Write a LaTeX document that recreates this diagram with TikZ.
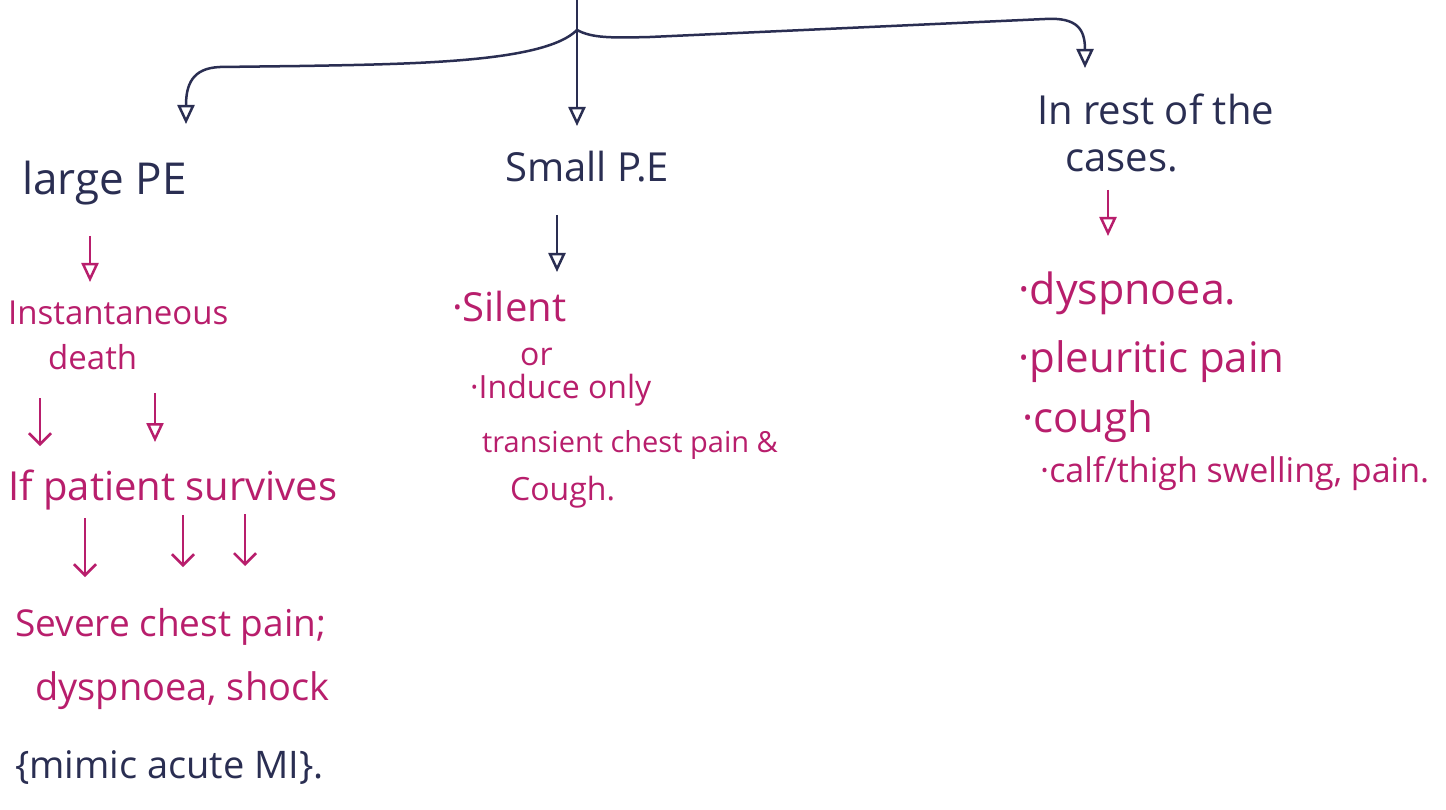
\documentclass[tikz,border=0pt]{standalone}
\usepackage{fontspec}
\setmainfont{Open Sans}
\usetikzlibrary{arrows.meta}
\definecolor{ink}{RGB}{42,46,82}
\definecolor{pinkink}{RGB}{184,30,108}
\tikzset{
  lbl/.style={anchor=base west, inner sep=0pt, font=\fontsize{36}{40}\selectfont},
  fs/.style={font=\fontsize{#1}{#1}\selectfont},
  navytxt/.style={lbl, text=ink},
  pinktxt/.style={lbl, text=pinkink},
  tri/.style={-{Triangle[open,length=19pt,width=17pt,line width=2.5pt]}, line width=2.5pt},
  barb/.style={-{Straight Barb[length=11pt,width=22pt,line width=2.5pt]}, line width=2.5pt},
}
\begin{document}
\begin{tikzpicture}[x=1pt,y=-1pt]
\useasboundingbox[fill=white] (0,0) rectangle (1446,810);

% --- top branching tree (dark ink)
\coordinate (root) at (577,-2);
\coordinate (fork) at (577,30);
\coordinate (leftend) at (186,124);
\coordinate (midend) at (577,126);
\coordinate (rightend) at (1085,68);
\draw[ink, line width=2.5pt] (root) -- (fork);
\draw[ink, tri] (fork) .. controls (545,62) and (420,64) .. (300,66)
   -- (220,67) .. controls (192,68) and (186,85) .. (leftend);
\draw[ink, tri] (fork) -- (midend);
\draw[ink, tri] (fork) .. controls (592,38) and (610,38) .. (650,37)
   -- (1045,19) .. controls (1078,17) and (1085,30) .. (rightend);

% --- branch headings
\node[navytxt, fs=44] (large) at (22,195) {large PE};
\node[navytxt, fs=40] (small) at (505,182) {Small P.E};
\node[navytxt, fs=40] (rest) at (1037,125) {In rest of the};
\node[navytxt, fs=40] (cases) at (1065,172) {cases.};

% --- large PE column
\coordinate (a1s) at (90,236);
\coordinate (a1e) at (90,282);
\draw[pinkink, tri] (a1s) -- (a1e);
\node[pinktxt, fs=33] (inst) at (8,325) {Instantaneous};
\node[pinktxt, fs=33] (death) at (48,370) {death};
\coordinate (a2s) at (40,398);
\coordinate (a2e) at (40,446);
\coordinate (a3s) at (155,393);
\coordinate (a3e) at (155,442);
\draw[pinkink, barb] (a2s) -- (a2e);
\draw[pinkink, tri] (a3s) -- (a3e);
\node[pinktxt, fs=40] (surv) at (8,500) {If patient survives};
\coordinate (b1s) at (85,518);
\coordinate (b1e) at (85,577);
\coordinate (b2s) at (183,515);
\coordinate (b2e) at (183,567);
\coordinate (b3s) at (245,514);
\coordinate (b3e) at (245,566);
\draw[pinkink, barb] (b1s) -- (b1e);
\draw[pinkink, barb] (b2s) -- (b2e);
\draw[pinkink, barb] (b3s) -- (b3e);
\node[pinktxt, fs=37] (sev) at (15,636) {Severe chest pain;};
\node[pinktxt, fs=38] (dys) at (35,700) {dyspnoea, shock};
\node[navytxt, fs=38] (mimic) at (15,778) {\{mimic acute MI\}.};

% --- small PE column
\coordinate (c1s) at (557,215);
\coordinate (c1e) at (557,272);
\draw[ink, tri] (c1s) -- (c1e);
\node[pinktxt, fs=40] (silent) at (452,322) {·Silent};
\node[pinktxt, fs=32] (or) at (520,365) {or};
\node[pinktxt, fs=32] (induce) at (470,398) {·Induce only};
\node[pinktxt, fs=29] (trans) at (482,452) {transient chest pain \&};
\node[pinktxt, fs=32] (cough1) at (510,500) {Cough.};

% --- remaining cases column
\coordinate (d1s) at (1108,190);
\coordinate (d1e) at (1108,236);
\draw[pinkink, tri] (d1s) -- (d1e);
\node[pinktxt, fs=43] (r1) at (1018,305) {·dyspnoea.};
\node[pinktxt, fs=42] (r2) at (1018,372) {·pleuritic pain};
\node[pinktxt, fs=42] (r3) at (1022,432) {·cough};
\node[pinktxt, fs=34] (r4) at (1040,482) {·calf/thigh swelling, pain.};
\end{tikzpicture}
\end{document}
